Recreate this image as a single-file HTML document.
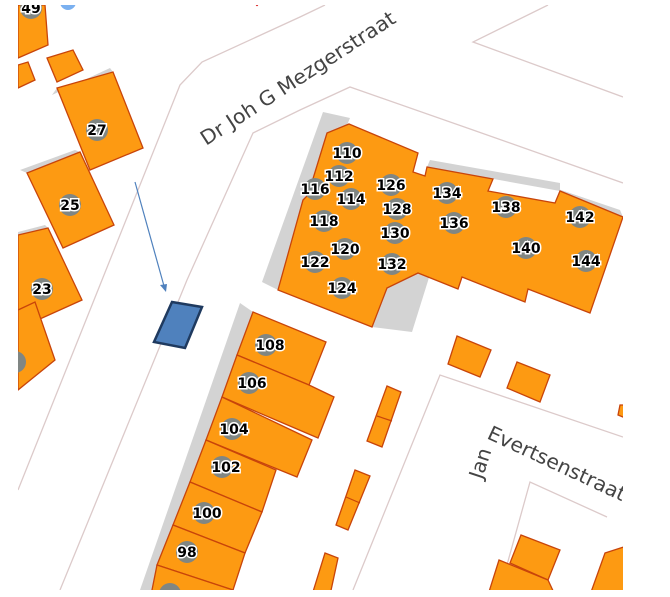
<!DOCTYPE html>
<html><head><meta charset="utf-8"><style>
html,body{margin:0;padding:0;background:#fff;}
svg{display:block;}
.b{fill:#fd9a12;stroke:#c8440a;stroke-width:1.3;}
.s{fill:#d3d3d3;}
.r{fill:none;stroke:#dccaca;stroke-width:1.3;}
.c{fill:#808683;}
.t{font-family:"DejaVu Sans","Liberation Sans",sans-serif;font-weight:bold;font-size:14px;fill:#000;stroke:#fff;stroke-width:3px;paint-order:stroke;text-anchor:middle;}
.st{font-family:"DejaVu Sans","Liberation Sans",sans-serif;font-size:20px;fill:#444;}
</style></head><body>
<svg width="670" height="597" viewBox="0 0 670 597" xmlns="http://www.w3.org/2000/svg">
<defs><clipPath id="m"><rect x="18" y="5" width="605" height="585"/></clipPath></defs>
<g clip-path="url(#m)">
<!-- roads -->
<path class="r" d="M325,5 L300,17 L202,62 L180,85 L100,285 L18,490"/>
<path class="r" d="M623,183 L473,130 L350,87 L300,110 L253,133 L187,280 L60,590"/>
<path class="r" d="M548,5 L473,42 L623,97"/>
<path class="r" d="M623,437 L440,375 L353,590"/>
<path class="r" d="M607,517 L530,482 L500,590"/>
<!-- shadows -->
<polygon class="s" points="52,95 110,68 113,72 57,88"/>
<polygon class="s" points="20,170 75,150 80,152 27,173"/>
<polygon class="s" points="18,232 45,225 48,228 18,236"/>
<polygon class="s" points="323,112 350,118 278,290 262,282"/>
<polygon class="s" points="387,288 418,273 432,268 412,332 372,327"/>
<polygon class="s" points="430,160 560,183 560,191 427,167"/>
<polygon class="s" points="555,188 620,210 623,217 560,191"/>
<polygon class="s" points="240,303 253,312 157,590 140,590"/>
<!-- left buildings -->
<polygon class="b" points="18,5 45,5 48,45 18,58"/>
<polygon class="b" points="18,65 28,62 35,80 18,88"/>
<polygon class="b" points="47,58 73,50 83,70 57,82"/>
<polygon class="b" points="57,88 113,72 143,148 90,170"/>
<polygon class="b" points="27,173 80,152 114,225 63,248"/>
<polygon class="b" points="18,235 48,228 82,300 20,328 18,328"/>
<polygon class="b" points="18,310 35,302 55,360 18,390"/>
<circle cx="68" cy="2" r="8" fill="#7ab0f0"/>
<circle cx="257" cy="5" r="1.2" fill="#d33"/>
<!-- big block -->
<polygon class="b" points="349,124 418,153 413,172 425,176 427,167 493,179 488,191 555,203 560,191 623,217 590,313 528,289 525,302 462,277 458,289 418,273 387,288 372,327 278,290 303,200 308,195 327,133"/>
<!-- row houses -->
<polygon class="b" points="253,312 326,342 309,385 237,355"/>
<polygon class="b" points="237,355 309,385 334,397 318,438 222,397"/>
<polygon class="b" points="222,397 312,440 297,477 206,440"/>
<polygon class="b" points="206,440 276,470 262,512 190,482"/>
<polygon class="b" points="190,482 262,512 245,553 173,525"/>
<polygon class="b" points="173,525 245,553 233,590 157,565"/>
<polygon class="b" points="157,565 233,590 225,610 150,600"/>
<!-- small ones -->
<polygon class="b" points="457,336 491,350 480,377 448,364"/>
<polygon class="b" points="517,362 550,375 540,402 507,388"/>
<polygon class="b" points="387,386 401,392 382,447 367,441"/>
<line x1="377" y1="416" x2="392" y2="421" stroke="#c8440a" stroke-width="1.2"/>
<polygon class="b" points="355,470 370,476 348,530 336,525"/>
<line x1="346" y1="497" x2="360" y2="503" stroke="#c8440a" stroke-width="1.2"/>
<polygon class="b" points="325,553 338,558 330,595 312,595"/>
<polygon class="b" points="620,405 630,405 630,420 618,415"/>
<polygon class="b" points="521,535 560,550 548,580 510,563"/>
<polygon class="b" points="499,560 548,580 555,595 488,595"/>
<polygon class="b" points="605,553 630,545 630,595 590,595"/>
<!-- blue -->
<polygon points="172,302 202,307 185,348 154,342" fill="#4f81bd" stroke="#1f3a5f" stroke-width="2.5"/>
<!-- arrow -->
<line x1="135" y1="182" x2="164" y2="286" stroke="#4f81bd" stroke-width="1.2"/>
<polygon points="160,285 167,284 166,292" fill="#4f81bd"/>
<!-- circles -->
<g>
<circle class="c" cx="31" cy="8" r="11"/><text class="t" x="31" y="13">49</text>
<circle class="c" cx="97" cy="130" r="11"/><text class="t" x="97" y="135">27</text>
<circle class="c" cx="70" cy="205" r="11"/><text class="t" x="70" y="210">25</text>
<circle class="c" cx="42" cy="289" r="11"/><text class="t" x="42" y="294">23</text>
<circle class="c" cx="15" cy="362" r="11"/>
<circle class="c" cx="347" cy="153" r="11"/><text class="t" x="347" y="158">110</text>
<circle class="c" cx="339" cy="176" r="11"/><text class="t" x="339" y="181">112</text>
<circle class="c" cx="315" cy="189" r="11"/><text class="t" x="315" y="194">116</text>
<circle class="c" cx="351" cy="199" r="11"/><text class="t" x="351" y="204">114</text>
<circle class="c" cx="324" cy="221" r="11"/><text class="t" x="324" y="226">118</text>
<circle class="c" cx="345" cy="249" r="11"/><text class="t" x="345" y="254">120</text>
<circle class="c" cx="315" cy="262" r="11"/><text class="t" x="315" y="267">122</text>
<circle class="c" cx="342" cy="288" r="11"/><text class="t" x="342" y="293">124</text>
<circle class="c" cx="391" cy="185" r="11"/><text class="t" x="391" y="190">126</text>
<circle class="c" cx="397" cy="209" r="11"/><text class="t" x="397" y="214">128</text>
<circle class="c" cx="395" cy="233" r="11"/><text class="t" x="395" y="238">130</text>
<circle class="c" cx="392" cy="264" r="11"/><text class="t" x="392" y="269">132</text>
<circle class="c" cx="447" cy="193" r="11"/><text class="t" x="447" y="198">134</text>
<circle class="c" cx="454" cy="223" r="11"/><text class="t" x="454" y="228">136</text>
<circle class="c" cx="506" cy="207" r="11"/><text class="t" x="506" y="212">138</text>
<circle class="c" cx="526" cy="248" r="11"/><text class="t" x="526" y="253">140</text>
<circle class="c" cx="580" cy="217" r="11"/><text class="t" x="580" y="222">142</text>
<circle class="c" cx="586" cy="261" r="11"/><text class="t" x="586" y="266">144</text>
<circle class="c" cx="266" cy="345" r="11"/><text class="t" x="270" y="350">108</text>
<circle class="c" cx="249" cy="383" r="11"/><text class="t" x="252" y="388">106</text>
<circle class="c" cx="232" cy="429" r="11"/><text class="t" x="234" y="434">104</text>
<circle class="c" cx="222" cy="467" r="11"/><text class="t" x="226" y="472">102</text>
<circle class="c" cx="204" cy="513" r="11"/><text class="t" x="207" y="518">100</text>
<circle class="c" cx="187" cy="552" r="11"/><text class="t" x="187" y="557">98</text>
<circle class="c" cx="170" cy="594" r="11"/>
</g>
<!-- street names -->
<text class="st" transform="translate(206,146) rotate(-33)" textLength="228" lengthAdjust="spacingAndGlyphs">Dr Joh G Mezgerstraat</text>
<text class="st" transform="translate(486,438) rotate(25)" textLength="150" lengthAdjust="spacingAndGlyphs">Evertsenstraat</text>
<text class="st" transform="translate(482,480) rotate(-72)">Jan</text>
</g>
</svg>
</body></html>
